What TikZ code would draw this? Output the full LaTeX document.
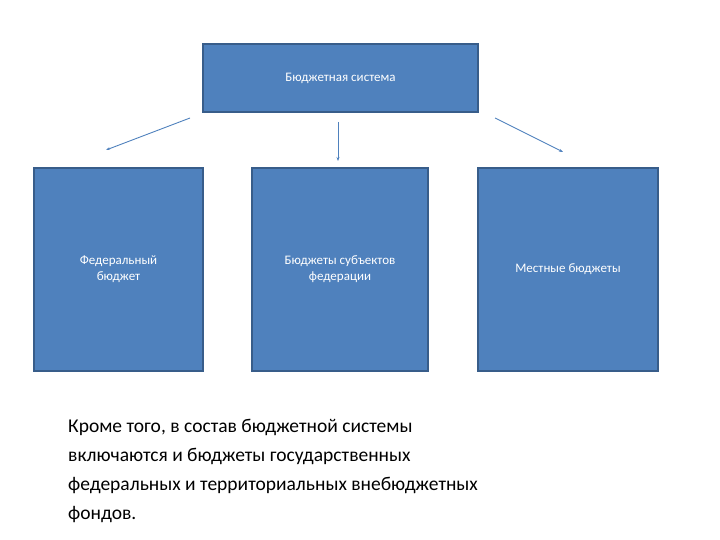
\documentclass[tikz,border=0pt]{standalone}
\usepackage{fontspec}
\setmainfont{Carlito}
\usetikzlibrary{arrows.meta}
\definecolor{boxblue}{HTML}{4F81BD}
\definecolor{boxedge}{HTML}{385D8A}
\begin{document}
\begin{tikzpicture}[x=1pt,y=-1pt,
  bx/.style={draw=boxedge,line width=1.2pt,fill=boxblue,text=white,align=center,font=\fontsize{13}{16}\selectfont,inner sep=0pt},
  conn/.style={draw=boxblue,line width=0.9pt,-{Stealth[length=4pt,width=3pt]}}]
\useasboundingbox (0,0) rectangle (720,540);
\node[bx,minimum width=275pt,minimum height=68pt] (top) at (340.5,78) {Бюджетная система};
\node[bx,minimum width=169pt,minimum height=203pt] (l) at (118.5,269.5) {Федеральный\\бюджет};
\node[bx,minimum width=176pt,minimum height=203pt] (m) at (340,269.5) {Бюджеты  субъектов\\федерации};
\node[bx,minimum width=180pt,minimum height=203pt] (r) at (568,269.5) {Местные бюджеты};
\coordinate (a1) at (190,118); \coordinate (b1) at (106,150);
\coordinate (a2) at (338,122); \coordinate (b2) at (338,161);
\coordinate (a3) at (495,118); \coordinate (b3) at (563,152);
\draw[conn] (a1) -- (b1);
\draw[conn] (a2) -- (b2);
\draw[conn] (a3) -- (b3);
\node[anchor=north west,align=left,inner sep=0pt,font=\fontsize{19.5}{29}\selectfont] (txt) at (68,419) {Кроме того, в состав бюджетной системы\\включаются и бюджеты государственных\\федеральных и территориальных внебюджетных\\фондов.};
\end{tikzpicture}
\end{document}
